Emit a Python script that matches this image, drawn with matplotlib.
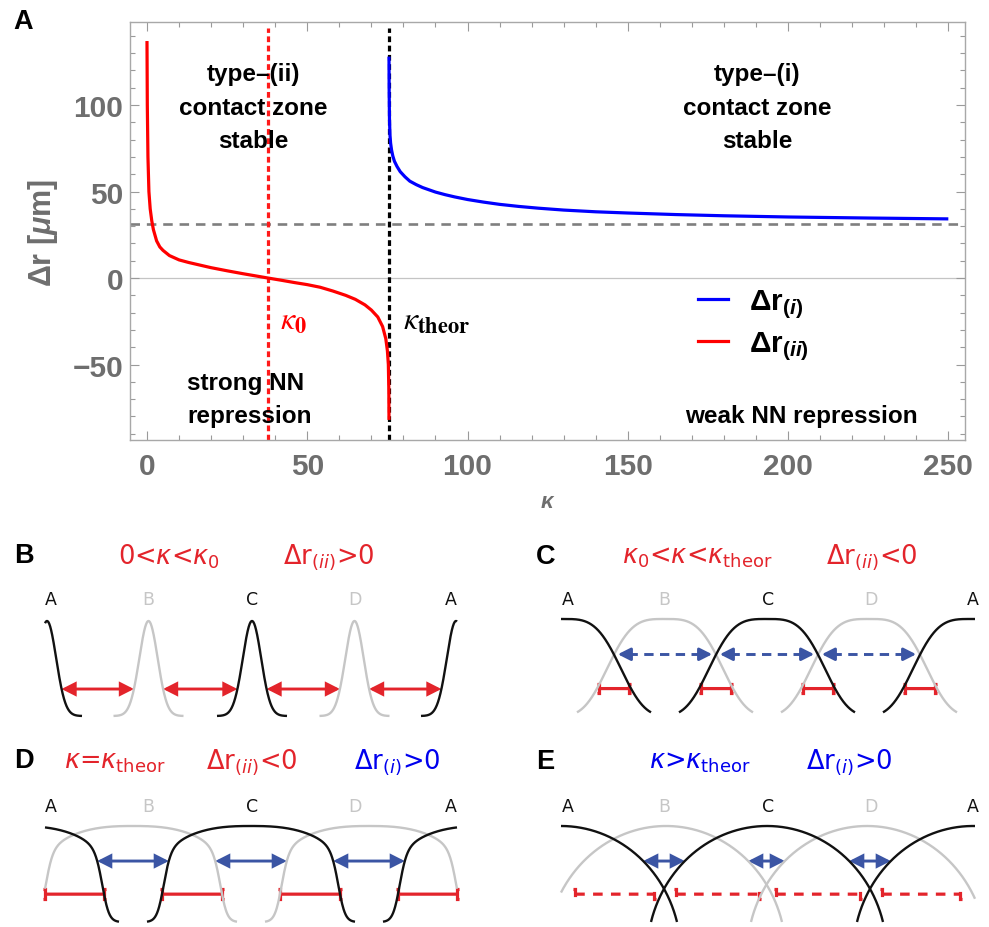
import numpy as np
import matplotlib
matplotlib.use("Agg")
import matplotlib.pyplot as plt
from matplotlib.lines import Line2D
from matplotlib.patches import FancyArrowPatch
from matplotlib.ticker import MultipleLocator

# ---------------- Panel A data ----------------
kappa_ii = [0, 0.1, 0.3, 0.6, 1, 1.5, 2, 3, 4, 5, 7, 10, 13, 16.5, 20, 25, 30, 35, 37.8,
            42, 46, 50, 54, 58, 62, 65, 68, 70, 72, 73.5, 74.5, 75, 75.3, 75.45, 75.5]
dr_ii = [137, 100, 70, 50, 40, 33, 28, 21.5, 18, 16, 13, 10.5, 9, 7.5, 6, 4.2, 2.5, 0.9, 0,
         -1.3, -2.6, -3.8, -5.3, -7.5, -10, -12.3, -15.5, -18.5, -22.5, -28, -35, -42, -50, -65, -82]
kappa_i = [75.5, 75.55, 75.65, 75.8, 76.0, 76.3, 76.7, 77.2, 78, 79, 80.5, 82, 84, 86, 88, 90,
           93, 96, 100, 105, 110, 116, 122, 130, 140, 150, 165, 180, 200, 225, 250]
dr_i = [128, 108, 92, 83, 78, 74, 70.5, 67.5, 64.5, 61.5, 58.5, 56, 54, 52.3, 51, 49.7,
        48.2, 46.9, 45.4, 43.9, 42.6, 41.4, 40.4, 39.3, 38.3, 37.6, 36.7, 36.0, 35.3, 34.7, 34.2]
kappa_0 = 37.8
kappa_theor = 75.5
dr_asymptote = 31.2
x_ticks = [0, 50, 100, 150, 200, 250]
y_ticks = [-50, 0, 50, 100]

# ---------------- Panels B-E data ----------------
profile_labels = ["A", "B", "C", "D", "A"]
profile_colors = ["#111111", "#c6c6c6", "#111111", "#c6c6c6", "#111111"]
centers_B = [47, 148.5, 252, 354.5, 456]
centers_C = [563, 665, 767, 869, 971]
centers_D = [15, 133, 251, 369, 487]
centers_E = [561, 666, 767, 867, 973]
label_x_left = [51, 148, 252, 355, 451]
label_x_right = [568, 664, 768, 871, 973]

RED = "#e3242b"
BLUE = "#3b55a4"
GRAYTXT = "#6e6e6e"

try:
    plt.rcParams["mathtext.fontset"] = "custom"
    plt.rcParams["mathtext.rm"] = "Liberation Sans"
    plt.rcParams["mathtext.it"] = "Liberation Sans:italic"
    plt.rcParams["mathtext.bf"] = "Liberation Sans:bold"
    plt.rcParams["mathtext.bfit"] = "Liberation Sans:bold:italic"
except Exception:
    pass
plt.rcParams["font.family"] = ["Liberation Sans", "DejaVu Sans"]

W, H = 989, 928
fig = plt.figure(figsize=(W / 100, H / 100), dpi=100)


def fr(x0, y0, x1, y1):
    return [x0 / W, 1 - y1 / H, (x1 - x0) / W, (y1 - y0) / H]


# ---------------- Panel A ----------------
ax = fig.add_axes(fr(130, 23, 965, 441))
ax.set_xlim(-5.3, 255.2)
ax.set_ylim(-93.6, 148)
ax.axhline(0, color="#c4c4c4", lw=0.9, zorder=1)
ax.axhline(dr_asymptote, color="#7f7f7f", lw=1.9, ls=(0, (3.6, 2.6)), zorder=2)
ax.axvline(kappa_0, ymax=0.985, color="#ff1a1a", lw=2.3, ls=(0, (1.8, 1.1)), zorder=2)
ax.axvline(kappa_theor, ymax=0.985, color="#000000", lw=2.3, ls=(0, (1.8, 1.1)), zorder=2)
ax.plot(kappa_ii, dr_ii, color="#ff0000", lw=2.3, zorder=3, solid_capstyle="butt")
ax.plot(kappa_i, dr_i, color="#0000ff", lw=2.3, zorder=3, solid_capstyle="butt")

ax.set_xticks(x_ticks)
ax.set_yticks(y_ticks)
ax.xaxis.set_minor_locator(MultipleLocator(10))
ax.yaxis.set_minor_locator(MultipleLocator(10))
ax.tick_params(which="both", direction="in", top=True, right=True, color="#9a9a9a", width=0.8)
ax.tick_params(which="major", length=6.5)
ax.tick_params(which="minor", length=3.5)
ax.tick_params(axis="x", which="major", pad=9, labelsize=21.5, labelcolor=GRAYTXT)
ax.tick_params(axis="y", which="major", pad=5, labelsize=21.5, labelcolor=GRAYTXT)
for lbl in ax.get_xticklabels() + ax.get_yticklabels():
    lbl.set_fontweight("bold")
for sp in ax.spines.values():
    sp.set_color("#a8a8a8")
    sp.set_linewidth(1.0)

txt_kw = dict(fontsize=17.5, fontweight="bold", color="black", linespacing=1.6)
ax.text(33.1, 98.8, "type\u2013(ii)\ncontact zone\nstable", ha="center", va="center", **txt_kw)
ax.text(190.3, 98.8, "type\u2013(i)\ncontact zone\nstable", ha="center", va="center", **txt_kw)
ax.text(12.5, -69.9, "strong NN\nrepression", ha="left", va="center", **txt_kw)
ax.text(240.5, -79.7, "weak NN repression", ha="right", va="center", **txt_kw)
ax.text(41.5, -24.5, r"$\kappa_{\mathbf{0}}$", color="#ff0000", fontsize=23,
        math_fontfamily="stix", ha="left", va="center")
ax.text(80.0, -24.5, r"$\kappa_{\mathbf{theor}}$", color="black", fontsize=23,
        math_fontfamily="stix", ha="left", va="center")

handles = [Line2D([], [], color="#0000ff", lw=2.3), Line2D([], [], color="#ff0000", lw=2.3)]
labels = [r"$\mathbf{\Delta r}_{\mathbf{(}\mathbfit{i}\mathbf{)}}$",
          r"$\mathbf{\Delta r}_{\mathbf{(}\mathbfit{ii}\mathbf{)}}$"]
ax.legend(handles, labels, loc="upper left", bbox_to_anchor=((698 - 130) / 835, (441 - 288) / 418),
          frameon=False, fontsize=21.5, handlelength=1.0, handletextpad=0.7, labelspacing=0.33,
          borderpad=0, borderaxespad=0)

fig.text(43 / W, 1 - 233 / H, r"$\mathbf{\Delta r\ [}\mathbfit{\mu}\mathbf{m]}$", rotation=90,
         ha="center", va="center", fontsize=22, color=GRAYTXT)
fig.text(548 / W, 1 - 503 / H, r"$\mathbfit{\kappa}$", ha="center", va="center", fontsize=16,
         color=GRAYTXT)

# ---------------- Panels B-E (schematics) ----------------
ov = fig.add_axes([0, 0, 1, 1])
ov.set_xlim(0, W)
ov.set_ylim(H, 0)
ov.axis("off")
ov.patch.set_alpha(0)


def h_gauss(u):
    return np.exp(-(np.asarray(u) / 13.0) ** 2)


def h_super(u):
    return np.exp(-(np.abs(u) / 64.0) ** 3.5)


def h_flat(u):
    a = np.abs(np.asarray(u, dtype=float))
    e = np.clip(1 - (a / 106.0) ** 2.6, 0, None) ** (1 / 2.6)
    s = 1 / (1 + np.exp((a - 88.0) / 3.5))
    return e * s / (1 / (1 + np.exp(-88.0 / 3.5)))


def h_arc(u):
    drop = 129.0 * (1 - np.sqrt(np.clip(1 - (np.asarray(u) / 120.0) ** 2, 0, None)))
    return 1 - drop / 96.0


def side_offset(h, level, ext):
    uu = np.linspace(0, ext, 4000)
    hh = h(uu)
    return float(np.interp(level, hh[::-1], uu[::-1]))


HL, HW = 7.5, 3.8
filled = f"<|-|>,head_length={HL},head_width={HW}"
bone = "]-[,widthA=3.4,lengthA=1.3,widthB=3.4,lengthB=1.3"


def arrow(x0, x1, y, color, style, lw=2.1, shrink=0, ls="-"):
    p = FancyArrowPatch((x0, y), (x1, y), arrowstyle=style, color=color, lw=lw,
                        mutation_scale=1, shrinkA=shrink, shrinkB=shrink, linestyle=ls,
                        capstyle="butt", joinstyle="miter")
    ov.add_patch(p)


def dashed_arrow(x0, x1, y, color, lw=2.1, shrink=4):
    # dashed shaft with solid filled heads
    px = HL * 100 / 72.0
    a, b = x0 + shrink, x1 - shrink
    ov.plot([a + px, b - px], [y, y], color=color, lw=lw, ls=(0, (3.2, 2.2)),
            solid_capstyle="butt", dash_capstyle="butt")
    head = f"-|>,head_length={HL},head_width={HW}"
    for s, e in (((a + px + 1, y), (a, y)), ((b - px - 1, y), (b, y))):
        ov.add_patch(FancyArrowPatch(s, e, arrowstyle=head, color=color, lw=lw,
                                     mutation_scale=1, shrinkA=0, shrinkB=0))


def panel(centers, h, ext, top, bottom, xclip, label_x, label_y):
    for c, col in zip(centers, profile_colors):
        lo = max(c - ext, xclip[0])
        hi = min(c + ext, xclip[1])
        if hi <= lo:
            continue
        xs = np.linspace(lo, hi, 600)
        ys = bottom - h(xs - c) * (bottom - top)
        ov.plot(xs, ys, color=col, lw=1.7, solid_capstyle="butt",
                zorder=2 if col != "#111111" else 3)
    for lx, t, col in zip(label_x, profile_labels, profile_colors):
        ov.text(lx, label_y, t, ha="center", va="center", fontsize=12.5, color=col,
                family="DejaVu Sans")


def ypix(level, top, bottom):
    return bottom - level * (bottom - top)


# Panel B
tB, bB = 622, 717
panel(centers_B, h_gauss, 35, tB, bB, (45, 457), label_x_left, 600)
d = side_offset(h_gauss, 0.284, 35)
for i in range(4):
    arrow(centers_B[i] + d, centers_B[i + 1] - d, ypix(0.284, tB, bB), RED, filled)

# Panel C
tC, bC = 620, 718
panel(centers_C, h_super, 88, tC, bC, (561, 975), label_x_right, 600)
d = side_offset(h_super, 0.64, 88)
for i in range(3):
    dashed_arrow(centers_C[i] + d, centers_C[i + 2] - d, ypix(0.64, tC, bC), BLUE)
d = side_offset(h_super, 0.29, 88)
for i in range(4):
    arrow(centers_C[i + 1] - d + 2, centers_C[i] + d - 2, ypix(0.29, tC, bC), RED, bone, lw=2.3)

# Panel D
tD, bD = 827, 923
panel(centers_D, h_flat, 104, tD, bD, (45, 457), label_x_left, 807)
d = side_offset(h_flat, 0.635, 104)
for i in range(3):
    arrow(centers_D[i] + d, centers_D[i + 2] - d, ypix(0.635, tD, bD), BLUE, filled)
d = side_offset(h_flat, 0.29, 104)
for i in range(4):
    x0 = max(centers_D[i + 1] - d, 45)
    x1 = min(centers_D[i] + d, 457)
    arrow(x0, x1, ypix(0.29, tD, bD), RED, bone, lw=2.3)

# Panel E
tE, bE = 827, 923
panel(centers_E, h_arc, 116, tE, bE, (561, 975), label_x_right, 807)
d = side_offset(h_arc, 0.635, 116)
for i in range(3):
    arrow(centers_E[i] + d, centers_E[i + 2] - d, ypix(0.635, tE, bE), BLUE, filled)
d = side_offset(h_arc, 0.29, 116)
for i in range(4):
    arrow(centers_E[i + 1] - d + 15, centers_E[i] + d - 13, ypix(0.29, tE, bE), RED, bone,
          lw=2.3, ls=(0, (3.0, 2.6)))

# Panel letters and titles
let_kw = dict(fontsize=19.5, fontweight="bold", color="black", ha="left", va="center")
ov.text(13, 22, "A", **let_kw)
ov.text(14, 556, "B", **let_kw)
ov.text(536, 557, "C", **let_kw)
ov.text(14, 761, "D", **let_kw)
ov.text(536, 762, "E", **let_kw)

tt = dict(fontsize=18.5, ha="center", va="center", family="DejaVu Sans",
          math_fontfamily="dejavusans")
ov.text(169, 557, r"0<$\kappa$<$\kappa_0$", color=RED, **tt)
ov.text(329, 557, r"$\Delta$r$_{(ii)}$>0", color=RED, **tt)
ov.text(697, 557, r"$\kappa_0$<$\kappa$<$\kappa_{\mathrm{theor}}$", color=RED, **tt)
ov.text(872, 557, r"$\Delta$r$_{(ii)}$<0", color=RED, **tt)
ov.text(115, 762, r"$\kappa$=$\kappa_{\mathrm{theor}}$", color=RED, **tt)
ov.text(252, 762, r"$\Delta$r$_{(ii)}$<0", color=RED, **tt)
ov.text(397, 762, r"$\Delta$r$_{(i)}$>0", color="#0000ee", **tt)
ov.text(700, 762, r"$\kappa$>$\kappa_{\mathrm{theor}}$", color="#0000ee", **tt)
ov.text(849, 762, r"$\Delta$r$_{(i)}$>0", color="#0000ee", **tt)

fig.savefig("out.png", dpi=100, facecolor="white")
